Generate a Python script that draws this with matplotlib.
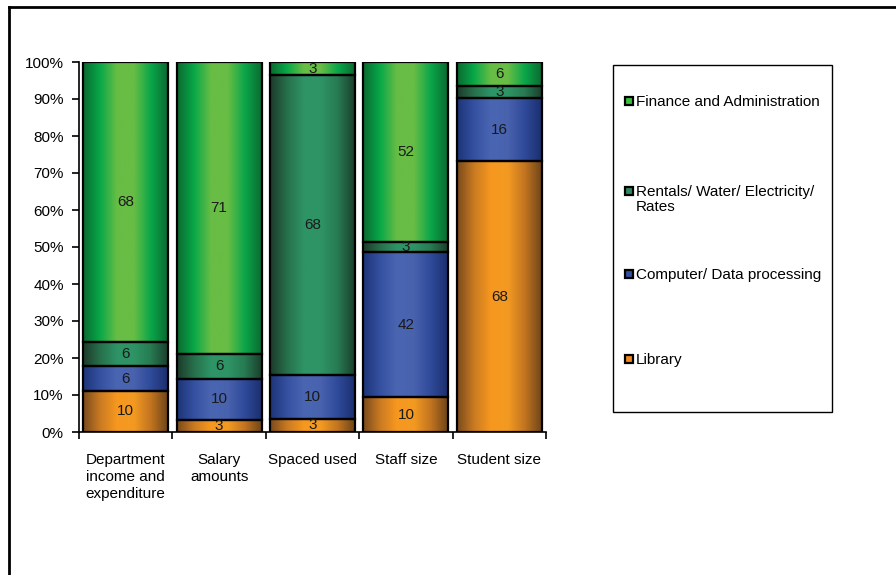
import numpy as np
import matplotlib.pyplot as plt
from matplotlib.colors import LinearSegmentedColormap
from matplotlib.patches import Rectangle
from matplotlib.lines import Line2D

plt.rcParams['font.family'] = ['Liberation Sans', 'DejaVu Sans']

# Data
categories = ['Department\nincome and\nexpenditure', 'Salary\namounts', 'Spaced used', 'Staff size', 'Student size']
library = [10, 3, 3, 10, 68]
computer = [6, 10, 10, 42, 16]
rentals = [6, 6, 68, 3, 3]
finance = [68, 71, 3, 52, 6]
series_names = ['Library', 'Computer/ Data processing', 'Rentals/ Water/ Electricity/\nRates', 'Finance and Administration']

series = [library, computer, rentals, finance]
totals = np.sum(series, axis=0)

# gradient stops (edge -> centre -> edge) per series
grad_colors = [
    ['#7a4a1c', '#c97a22', '#f7981f', '#f39a22', '#c27420', '#6e4519'],
    ['#1d3478', '#3450a0', '#4a66b2', '#4862ae', '#2f4a9a', '#1b2f6e'],
    ['#1c3a2a', '#27704c', '#2e9466', '#2e9466', '#277a52', '#1a3f2c'],
    ['#0a6a30', '#08a848', '#68bd45', '#68bd45', '#0aa64a', '#0a6a30'],
]
legend_colors = ['#f08a1a', '#3050a0', '#2e8b5f', '#3cc040']

W, H = 896, 575
fig = plt.figure(figsize=(W / 100, H / 100), dpi=100)
ax = fig.add_axes([79 / W, 1 - 432 / H, (546 - 79) / W, (432 - 62) / H])

x = np.arange(len(categories))
grad = np.linspace(0, 1, 256).reshape(1, -1)
bottom = np.zeros(len(categories))
for vals, cols in zip(series, grad_colors):
    pct = np.array(vals) / totals * 100
    bars = ax.bar(x, pct, width=0.91, bottom=bottom, color='none',
                  edgecolor='black', linewidth=1.6, zorder=3)
    cmap = LinearSegmentedColormap.from_list('g', cols)
    for rect in bars:
        x0, y0 = rect.get_x(), rect.get_y()
        im = ax.imshow(grad, extent=[x0, x0 + rect.get_width(), y0, y0 + rect.get_height()],
                       cmap=cmap, aspect='auto', zorder=2, interpolation='bilinear')
        im.set_clip_path(rect)
    ax.bar_label(bars, labels=[str(v) for v in vals], label_type='center',
                 fontsize=11, color='#1a1a1a', zorder=4)
    bottom += pct

ax.set_xlim(-0.5, len(categories) - 0.5)
ax.set_ylim(0, 100)
ax.set_yticks(np.arange(0, 101, 10))
ax.set_yticklabels([f'{v}%' for v in range(0, 101, 10)], fontsize=11)
ax.set_xticks(x)
ax.set_xticklabels(categories, fontsize=11, linespacing=1.3)
ax.set_xticks(np.arange(-0.5, len(categories)), minor=True)
ax.tick_params(axis='x', which='major', length=0, pad=15)
ax.tick_params(axis='x', which='minor', length=5, width=1.2)
ax.tick_params(axis='y', length=5, width=1.2, pad=6)
for s in ['top', 'right']:
    ax.spines[s].set_visible(False)
for s in ['left', 'bottom']:
    ax.spines[s].set_linewidth(1.2)

# legend box drawn by hand (Excel spreads the entries over the whole box)
fig.add_artist(Rectangle((613 / W, 1 - 412 / H), (832 - 613) / W, (412 - 65) / H,
                         facecolor='white', edgecolor='black', lw=1.0,
                         transform=fig.transFigure))
legend_rows = [101, 191, 274, 359]
for name, color, yy in zip(series_names[::-1], legend_colors[::-1], legend_rows):
    fig.add_artist(Rectangle((625 / W, 1 - (yy + 4) / H), 8 / W, 8 / H,
                             facecolor=color, edgecolor='black', lw=1.6,
                             transform=fig.transFigure))
    fig.text(636 / W, 1 - (yy - 6) / H, name, fontsize=11, va='top', ha='left',
             linespacing=1.05)

# outer frame
fig.add_artist(Line2D([9 / W, 1], [1 - 7 / H, 1 - 7 / H], color='black', lw=2, transform=fig.transFigure))
fig.add_artist(Line2D([9 / W, 9 / W], [0, 1 - 7 / H], color='black', lw=2, transform=fig.transFigure))

fig.savefig('out.png', dpi=100)
